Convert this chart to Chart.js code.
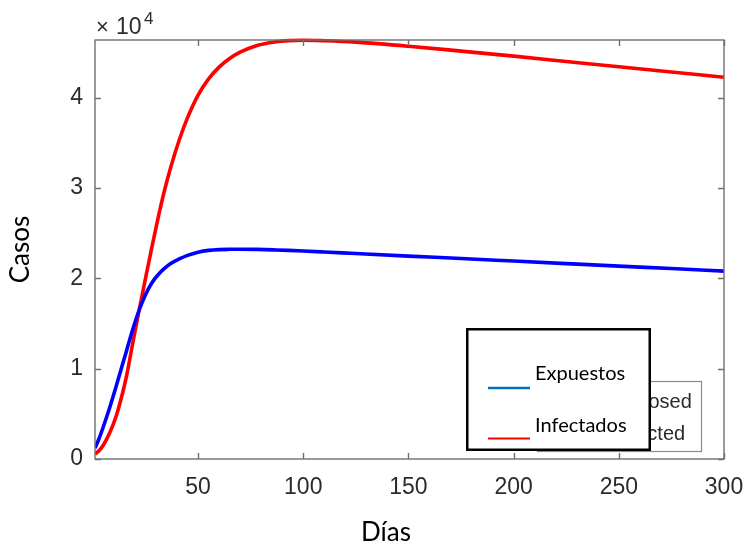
<!DOCTYPE html>
<html>
<head>
<meta charset="utf-8">
<script src="https://cdn.jsdelivr.net/npm/chart.js@4"></script>
<style>
  html, body { margin: 0; padding: 0; background: #ffffff; }
  #wrap { width: 748px; height: 547px; position: relative; }
</style>
</head>
<body>
<div id="wrap"><canvas id="c" width="748" height="547"></canvas></div>
<script>
// ---- data ----
const days = [1, 3, 5, 8, 11, 14, 16, 19, 22, 25, 28, 31, 34, 37, 41, 45, 50, 55, 60, 65, 70, 78, 87, 93, 100, 110, 125, 150, 175, 200, 225, 250, 275, 300];
const exposed = [1200, 2300, 3600, 5700, 8000, 10400, 12000, 14400, 16500, 18200, 19500, 20400, 21100, 21650, 22150, 22550, 22900, 23100, 23190, 23220, 23230, 23210, 23150, 23100, 23030, 22920, 22750, 22470, 22200, 21920, 21640, 21360, 21090, 20810];
const infected = [550, 950, 1550, 2900, 4700, 7200, 9200, 12900, 16500, 20000, 23400, 26700, 29700, 32300, 35300, 37800, 40300, 42100, 43400, 44350, 45050, 45800, 46200, 46330, 46380, 46320, 46160, 45710, 45170, 44610, 44020, 43430, 42850, 42280];
const xTicks = [50, 100, 150, 200, 250, 300];
const yTicks = [0, 10000, 20000, 30000, 40000];
const yTickLabels = ['0', '1', '2', '3', '4'];
const seriesNames = ['Expuestos', 'Infectados'];
const oldLegendNames = ['Exposed', 'Infected'];
const xTitle = 'Días';
const yTitle = 'Casos';

const toPoints = (ys) => days.map((d, i) => ({ x: d, y: ys[i] }));

const AXIS_COLOR = '#6f6f6f';
const TEXT_COLOR = '#2b2b2b';

const decorPlugin = {
  id: 'decor',
  afterDraw(chart) {
    const ctx = chart.ctx;
    const a = chart.chartArea;
    const xs = chart.scales.x, ys = chart.scales.y;
    ctx.save();
    // box
    ctx.strokeStyle = AXIS_COLOR;
    ctx.lineWidth = 1.4;
    ctx.strokeRect(a.left, a.top, a.right - a.left, a.bottom - a.top);
    // inward ticks
    const tl = 6;
    ctx.beginPath();
    xs.ticks.forEach(t => {
      const px = Math.round(xs.getPixelForValue(t.value)) + 0.5;
      ctx.moveTo(px, a.bottom); ctx.lineTo(px, a.bottom - tl);
      ctx.moveTo(px, a.top); ctx.lineTo(px, a.top + tl);
    });
    ys.ticks.forEach(t => {
      const py = Math.round(ys.getPixelForValue(t.value)) + 0.5;
      ctx.moveTo(a.left, py); ctx.lineTo(a.left + tl, py);
      ctx.moveTo(a.right, py); ctx.lineTo(a.right - tl, py);
    });
    ctx.stroke();

    // exponent label  x10^4
    ctx.fillStyle = TEXT_COLOR;
    ctx.textBaseline = 'alphabetic';
    ctx.textAlign = 'left';
    ctx.font = '22px "Liberation Sans", Arial, sans-serif';
    ctx.fillText('\u00d7', 96, 34);
    ctx.font = '23px "Liberation Sans", Arial, sans-serif';
    ctx.fillText('10', 116, 34);
    ctx.font = '17px "Liberation Sans", Arial, sans-serif';
    ctx.fillText('4', 144, 24);

    // x axis title (pasted label)
    ctx.fillStyle = '#000000';
    ctx.font = '26px Lato, sans-serif';
    ctx.textAlign = 'center';
    ctx.textBaseline = 'middle';
    ctx.fillText(xTitle, 386, 533);

    // old (partially hidden) legend
    ctx.fillStyle = '#ffffff';
    ctx.fillRect(537, 381, 165, 71);
    ctx.strokeStyle = '#8a8a8a';
    ctx.lineWidth = 1.2;
    ctx.strokeRect(537.5, 381.5, 164, 70);
    ctx.fillStyle = TEXT_COLOR;
    ctx.font = '20px "Liberation Sans", Arial, sans-serif';
    ctx.textAlign = 'left';
    ctx.textBaseline = 'middle';
    ctx.fillText(oldLegendNames[0], 614, 402);
    ctx.fillText(oldLegendNames[1], 614, 434);

    // new legend overlay
    ctx.fillStyle = '#ffffff';
    ctx.fillRect(467, 329, 182, 121);
    ctx.strokeStyle = '#000000';
    ctx.lineWidth = 2.5;
    ctx.strokeRect(467.25, 329.25, 182.5, 120.5);
    ctx.lineWidth = 2.5;
    ctx.strokeStyle = '#0070C0';
    ctx.beginPath(); ctx.moveTo(488, 388); ctx.lineTo(530, 388); ctx.stroke();
    ctx.lineWidth = 1.8;
    ctx.strokeStyle = '#FF0000';
    ctx.beginPath(); ctx.moveTo(488, 438.5); ctx.lineTo(530, 438.5); ctx.stroke();
    ctx.fillStyle = '#000000';
    ctx.font = '20px Lato, sans-serif';
    ctx.textAlign = 'left';
    ctx.textBaseline = 'middle';
    ctx.fillText(seriesNames[0], 535, 374);
    ctx.fillText(seriesNames[1], 535, 426);
    ctx.restore();
  }
};

new Chart(document.getElementById('c'), {
  type: 'line',
  data: {
    datasets: [
      {
        label: seriesNames[0],
        data: toPoints(exposed),
        borderColor: '#0000FF',
        borderWidth: 3.6,
        pointRadius: 0,
        cubicInterpolationMode: 'monotone',
        fill: false,
        clip: { left: 0, top: 3, right: 0, bottom: 0 }
      },
      {
        label: seriesNames[1],
        data: toPoints(infected),
        borderColor: '#FF0000',
        borderWidth: 3.6,
        pointRadius: 0,
        cubicInterpolationMode: 'monotone',
        fill: false,
        clip: { left: 0, top: 3, right: 0, bottom: 0 }
      }
    ]
  },
  options: {
    responsive: false,
    animation: false,
    devicePixelRatio: 1,
    layout: { padding: { left: 0, right: 24, top: 40, bottom: 0 } },
    plugins: { legend: { display: false }, tooltip: { enabled: false } },
    scales: {
      x: {
        type: 'linear',
        min: 1, max: 300,
        grid: { display: false, drawTicks: false, tickLength: 0 },
        border: { display: false },
        afterBuildTicks: (s) => { s.ticks = xTicks.map(v => ({ value: v })); },
        afterFit: (s) => { s.height = 88; s.paddingLeft = 0; s.paddingRight = 0; },
        ticks: {
          padding: 15,
          maxRotation: 0,
          autoSkip: false,
          color: TEXT_COLOR,
          font: { family: '"Liberation Sans", Arial, sans-serif', size: 23 },
          callback: (v) => String(v)
        }
      },
      y: {
        type: 'linear',
        min: 0, max: 46400,
        grid: { display: false, drawTicks: false, tickLength: 0 },
        border: { display: false },
        afterBuildTicks: (s) => { s.ticks = yTicks.map(v => ({ value: v })); },
        afterFit: (s) => { s.width = 95; s.paddingTop = 0; s.paddingBottom = 0; },
        title: {
          display: true,
          text: yTitle,
          color: '#000000',
          font: { family: 'Lato, sans-serif', size: 26 },
          padding: { top: 5, bottom: 0 }
        },
        ticks: {
          padding: 12,
          autoSkip: false,
          color: TEXT_COLOR,
          font: { family: '"Liberation Sans", Arial, sans-serif', size: 23 },
          callback: (v) => yTickLabels[yTicks.indexOf(v)]
        }
      }
    }
  },
  plugins: [decorPlugin]
});
</script>
</body>
</html>
